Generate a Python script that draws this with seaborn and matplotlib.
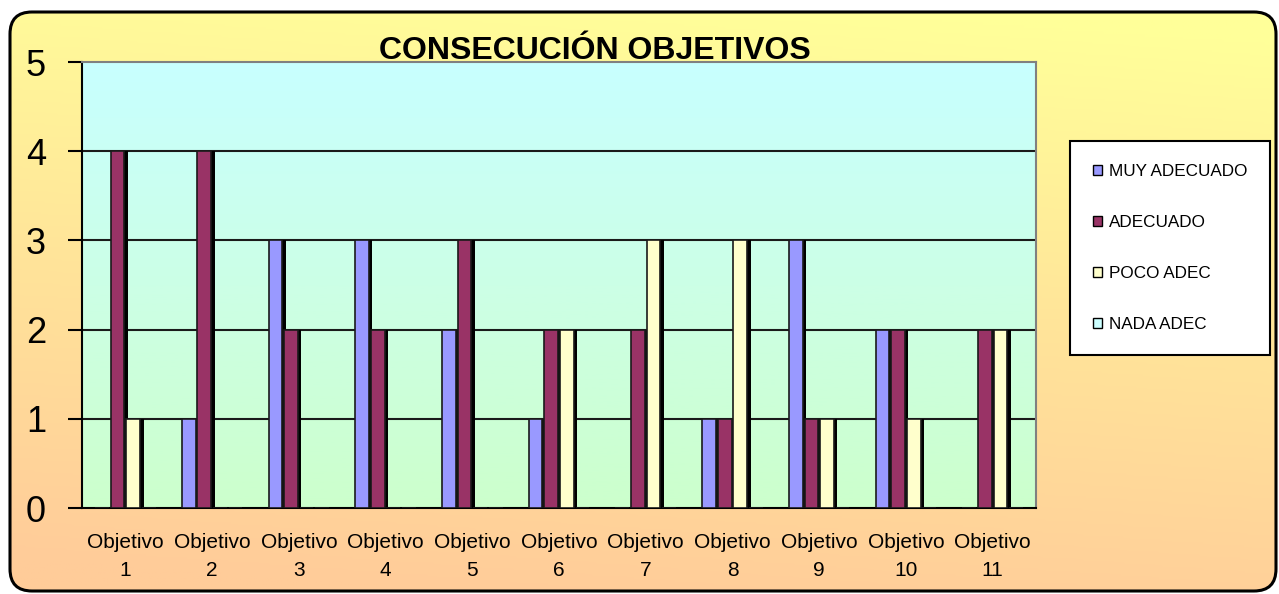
import numpy as np
import pandas as pd
import matplotlib
matplotlib.use("Agg")
import matplotlib.pyplot as plt
import seaborn as sns
from matplotlib.patches import FancyBboxPatch, Patch
from matplotlib import patheffects as pe
from matplotlib.colors import LinearSegmentedColormap

# ---------------- data ----------------
categories = [f"Objetivo\n{i}" for i in range(1, 12)]
series_names = ["MUY ADECUADO", "ADECUADO", "POCO ADEC", "NADA ADEC"]
muy_adecuado = [0, 1, 3, 3, 2, 1, 0, 1, 3, 2, 0]
adecuado     = [4, 4, 2, 2, 3, 2, 2, 1, 1, 2, 2]
poco_adec    = [1, 0, 0, 0, 0, 2, 3, 3, 1, 1, 2]
nada_adec    = [0, 0, 0, 0, 0, 0, 0, 0, 0, 0, 0]
colors = ["#9999FF", "#993366", "#FFFFCC", "#CCFFFF"]
title = "CONSECUCIÓN OBJETIVOS"
y_ticks = [0, 1, 2, 3, 4, 5]

rows = []
for name, vals in zip(series_names, [muy_adecuado, adecuado, poco_adec, nada_adec]):
    for c, v in zip(categories, vals):
        rows.append({"objetivo": c, "valor": v, "nivel": name})
df = pd.DataFrame(rows)

sns.set_theme(style="white")
plt.rcParams["font.family"] = ["Liberation Sans", "DejaVu Sans"]
plt.rcParams["text.color"] = "black"
plt.rcParams["xtick.color"] = "black"
plt.rcParams["ytick.color"] = "black"
plt.rcParams["xtick.labelcolor"] = "black"
plt.rcParams["ytick.labelcolor"] = "black"

W, H = 1279, 594
fig = plt.figure(figsize=(W / 100, H / 100), dpi=100)
fig.patch.set_facecolor("white")

# ---------------- outer rounded background ----------------
bg = fig.add_axes([0, 0, 1, 1], zorder=0)
bg.set_xlim(0, W)
bg.set_ylim(H, 0)
bg.axis("off")
yy, xx = np.mgrid[0:1:200j, 0:1:400j]
t = np.clip(0.95 * yy + 0.15 * (1 - xx) - 0.05, 0, 1)
cmap_bg = LinearSegmentedColormap.from_list("bg", ["#FFFF99", "#FFE49A", "#FFCC99"])
im = bg.imshow(t, cmap=cmap_bg, extent=(10, 1276, 591, 12), aspect="auto", zorder=1)
box = FancyBboxPatch((10, 12), 1266, 579, boxstyle="round,pad=0,rounding_size=22",
                     facecolor="none", edgecolor="black", linewidth=2.2, zorder=3)
bg.add_patch(box)
im.set_clip_path(box)

# ---------------- plot area ----------------
x0, x1, ytop, ybot = 82, 1036, 62, 508
ax = fig.add_axes([x0 / W, 1 - ybot / H, (x1 - x0) / W, (ybot - ytop) / H], zorder=2)
ax.set_facecolor("none")
grad = np.linspace(1, 0, 200).reshape(-1, 1)
cmap_pa = LinearSegmentedColormap.from_list("pa", ["#CCFFCC", "#CCFFE6", "#C8FFFF"])
ax.imshow(grad, cmap=cmap_pa, extent=(0, 1, 0, 1), transform=ax.transAxes,
          aspect="auto", zorder=0, origin="upper")

sns.barplot(data=df, x="objetivo", y="valor", hue="nivel", hue_order=series_names,
            order=categories, palette=colors, saturation=1, width=0.72, gap=0.12,
            edgecolor="#1a1a1a", linewidth=1.2, legend=False, ax=ax, zorder=3)

for p in ax.patches:
    p.set_path_effects([pe.SimplePatchShadow(offset=(2.5, 0), shadow_rgbFace="black", alpha=1.0),
                        pe.Normal()])

ax.set_xlim(-0.5, len(categories) - 0.5)
ax.set_ylim(0, 5)
ax.set_yticks(y_ticks)
ax.set_yticklabels([str(v) for v in y_ticks], fontsize=26, color="black")
for v in y_ticks[1:-1]:
    ax.axhline(v, color="#1a1a1a", linewidth=1.5, zorder=1)

ax.set_xticks(range(len(categories)))
ax.set_xticklabels(categories, fontsize=15, linespacing=1.6, color="black")
ax.set_xticks(np.arange(-0.5, len(categories), 1), minor=True)
ax.tick_params(axis="x", which="major", length=0, pad=18)
ax.tick_params(axis="x", which="minor", direction="out", length=6, width=1.5, color="black")
ax.tick_params(axis="y", direction="out", length=10, width=1.5, color="black", pad=16,
               left=True)
ax.set_xlabel("")
ax.set_ylabel("")

for s in ["left", "bottom"]:
    ax.spines[s].set_color("black")
    ax.spines[s].set_linewidth(1.5)
for s in ["top", "right"]:
    ax.spines[s].set_color("#808080")
    ax.spines[s].set_linewidth(1.5)
    ax.spines[s].set_visible(True)

# ---------------- title ----------------
fig.text(595 / W, 1 - 51 / H, title, ha="center", va="center",
         fontsize=23, fontweight="bold", color="black", zorder=5)

# ---------------- legend ----------------
handles = [Patch(facecolor=c, edgecolor="black", linewidth=1.0) for c in colors]
leg = ax.legend(handles, series_names, loc="center",
                bbox_to_anchor=((1071 + 1269) / 2 / W, 1 - 248 / H),
                bbox_transform=fig.transFigure, fontsize=12.3, frameon=True,
                fancybox=False, handlelength=0.55, handleheight=0.55,
                handletextpad=0.4, labelspacing=2.1, borderpad=1.35,
                labelcolor="black")
leg.get_frame().set_edgecolor("black")
leg.get_frame().set_linewidth(1.5)
leg.get_frame().set_facecolor("white")
leg.get_frame().set_alpha(1)
leg.set_zorder(10)

fig.savefig("out.png", dpi=100)
